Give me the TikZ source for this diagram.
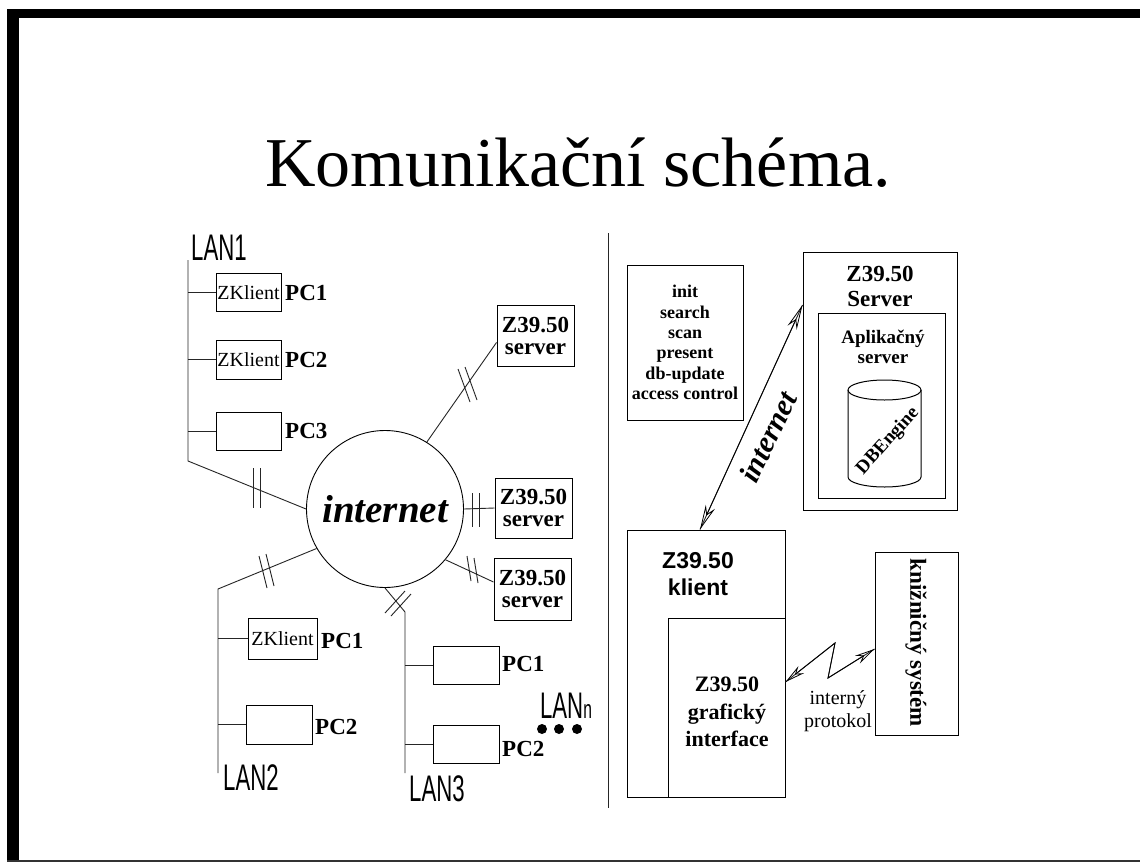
\documentclass[tikz,border=0pt]{standalone}
\usepackage{fontspec}
\usepackage{graphicx}
\setmainfont{Liberation Serif}
\newfontfamily\arialf{Liberation Sans}
\usetikzlibrary{arrows.meta}
\newcommand{\myfs}[2]{\fontsize{#1}{#2}\selectfont}
\tikzset{
  ln/.style={line width=0.9pt, black!85},
  box/.style={draw, line width=1pt, inner sep=0pt, align=center},
  zk/.style={font=\myfs{20}{20}},
  pcl/.style={font=\bfseries\myfs{23}{23}, inner sep=0pt, anchor=west},
  srvbox/.style={box, minimum width=77pt, minimum height=61pt, font=\bfseries\myfs{23}{22}},
  hand/.style={font=\arialf\myfs{37}{37}, inner sep=0pt},
  txt/.style={inner sep=0pt, align=center},
  tipA/.style={line width=0.8pt, {Stealth[open,length=25pt,width=10pt]}-{Stealth[open,length=25pt,width=10pt]}},
  tipB/.style={line width=0.8pt, {Stealth[open,length=20pt,width=9pt]}-{Stealth[open,length=20pt,width=9pt]}},
}
\begin{document}
\begin{tikzpicture}[x=1pt,y=-1pt]
\useasboundingbox (0,0) rectangle (1140,862);
\fill[white] (0,0) rectangle (1140,862);
% frame
\fill[black] (7,9) rectangle (1140,18);
\fill[black] (7,9) rectangle (19,862);
\draw[line width=1.5pt, black!80] (7,861) -- (1140,861);
% title
\node[font=\myfs{70}{70}] (title) at (578,163) {Komunikační schéma.};
% divider
\coordinate (dvt) at (608,233);
\coordinate (dvb) at (608,808);
\draw[ln] (dvt) -- (dvb);

% ---------- left part ----------
\node[draw, circle, line width=0.9pt, minimum size=157pt, inner sep=0pt,
      font=\bfseries\itshape\myfs{39}{39}] (inet) at (385,509) {internet};

% LAN1
\node[hand] (lan1) at (219,248) {\scalebox{0.6}[1]{LAN1}};
\coordinate (l1t) at (188,260);
\coordinate (l1b) at (188,461);
\node[box, zk, minimum width=65pt, minimum height=38pt] (k1) at (248.5,292.5) {ZKlient};
\node[pcl] (k1l) at (285,292.5) {PC1};
\node[box, zk, minimum width=65pt, minimum height=39pt] (k2) at (248.5,359.5) {ZKlient};
\node[pcl] (k2l) at (285,360) {PC2};
\node[box, minimum width=65pt, minimum height=38pt] (k3) at (248.5,431) {};
\node[pcl] (k3l) at (285,431) {PC3};
\draw[ln] (l1t) -- (l1b) -- (inet.west);
\draw[ln] (k1.west) -- (k1.west -| l1t);
\draw[ln] (k2.west) -- (k2.west -| l1t);
\draw[ln] (k3.west) -- (k3.west -| l1t);
\draw[ln] (253,468) -- (253,508);
\draw[ln] (260,468) -- (260,508);

% servers
\node[srvbox] (s1) at (535.5,335.5) {Z39.50\\server};
\node[srvbox, minimum height=60pt] (s2) at (533.5,508) {Z39.50\\server};
\node[srvbox, minimum height=62pt] (s3) at (532.5,589) {Z39.50\\server};
\draw[ln] (inet.58) -- ([yshift=-7pt]s1.west);
\draw[ln] (458,369) -- (470,402);
\draw[ln] (465,367) -- (477,400);
\draw[ln] (inet.east) -- (s2.west);
\draw[ln] (472,493) -- (472,527);
\draw[ln] (479,493) -- (479,527);
\draw[ln] (inet.-40) -- ([yshift=7pt]s3.west);
\draw[ln] (467,556) -- (471,581);
\draw[ln] (474,558) -- (478,583);

% LAN2
\coordinate (l2t) at (218,589);
\coordinate (l2b) at (218,773);
\node[hand] (lan2) at (251,778) {\scalebox{0.6}[1]{LAN2}};
\node[box, zk, minimum width=69pt, minimum height=41pt] (m1) at (282.5,638.5) {ZKlient};
\node[pcl] (m1l) at (321,641) {PC1};
\node[box, minimum width=66pt, minimum height=39pt] (m2) at (279,724.5) {};
\node[pcl] (m2l) at (315,727) {PC2};
\draw[ln] (inet.-150) -- (l2t) -- (l2b);
\draw[ln] (m1.west) -- (m1.west -| l2t);
\draw[ln] (m2.west) -- (m2.west -| l2t);
\draw[ln] (259,556) -- (267,588);
\draw[ln] (266,554) -- (274,586);

% LAN3
\coordinate (l3k) at (405,612);
\coordinate (l3b) at (405,773);
\node[hand] (lan3) at (437,789) {\scalebox{0.6}[1]{LAN3}};
\node[box, minimum width=66pt, minimum height=38pt] (n1) at (466,665) {};
\node[pcl] (n1l) at (502,664) {PC1};
\node[box, minimum width=66pt, minimum height=38pt] (n2) at (466,744) {};
\node[pcl] (n2l) at (502,749) {PC2};
\draw[ln] (inet.south) -- (l3k) -- (l3b);
\draw[ln] (n1.west) -- (n1.west -| l3k);
\draw[ln] (n2.west) -- (n2.west -| l3k);
\draw[ln] (385,613) -- (405,591);
\draw[ln] (391,616) -- (411,594);

% LANn
\node[hand] (lann) at (566,706) {\scalebox{0.6}[1]{LAN\myfs{26}{26}n}};
\fill (542,729) circle[radius=5pt];
\fill (559,729) circle[radius=5pt];
\fill (577,729) circle[radius=5pt];

% ---------- right part ----------
\node[box, minimum width=116pt, minimum height=155pt, font=\bfseries\myfs{18}{20.4}] (cmd) at (685,342.5)
  {init\\search\\scan\\present\\db-update\\access control};

\node[box, minimum width=154pt, minimum height=258pt] (srv) at (880,381) {};
\node[txt, font=\bfseries\myfs{23}{25}] (srvt) at (880,286) {Z39.50\\Server};
\node[box, minimum width=127pt, minimum height=185pt] (app) at (881.5,405.5) {};
\node[txt, font=\bfseries\myfs{19}{20}] (appt) at (883,347) {Aplikačný\\server};
% cylinder
\coordinate (db) at (888,441);
\draw[line width=1pt] (848,390) -- (848,477) arc[start angle=180, end angle=0, x radius=36.5, y radius=10] -- (921,390);
\draw[line width=1pt] (884.5,390) ellipse [x radius=36.5, y radius=10];
\node[font=\bfseries\myfs{19}{19}, rotate=48, inner sep=0pt] (dbt) at (db) {DBEngine};

% klient
\node[box, minimum width=158pt, minimum height=267pt] (kl) at (706,663.5) {};
\node[txt, font=\arialf\bfseries\myfs{23}{27}] (klt) at (698,574) {Z39.50\\klient};
\node[box, minimum width=117pt, minimum height=179pt] (gi) at (726.5,707.5) {};
\node[txt, font=\bfseries\myfs{22}{27.5}] (git) at (727,712) {Z39.50\\grafický\\interface};

% internet arrow
\coordinate (a1) at ([yshift=76pt]srv.west);
\coordinate (a2) at ([xshift=-6pt]kl.north);
\draw[ln] (a1) -- (a2);
\draw[tipA] (a1) -- (a2);
\node[rotate=64, font=\bfseries\itshape\myfs{30}{30}, inner sep=0pt] (inetlbl) at (768,437) {internet};

% knižničný systém
\node[box, minimum width=83pt, minimum height=183pt] (ks) at (916.5,643.5) {};
\node[rotate=-90, font=\bfseries\myfs{23}{23}] (kst) at (916,643) {knižničný systém};

% zigzag
\coordinate (z0) at ([yshift=25.5pt]gi.east);
\coordinate (z3) at ([yshift=-5.5pt]ks.west);
\draw[ln] (z0) -- (835,643) -- (828,678) -- (z3);
\draw[tipB] (z0) -- (835,643) -- (828,678) -- (z3);
\node[txt, font=\myfs{20}{23}] (ip) at (838,711) {interný\\protokol};
\end{tikzpicture}
\end{document}
